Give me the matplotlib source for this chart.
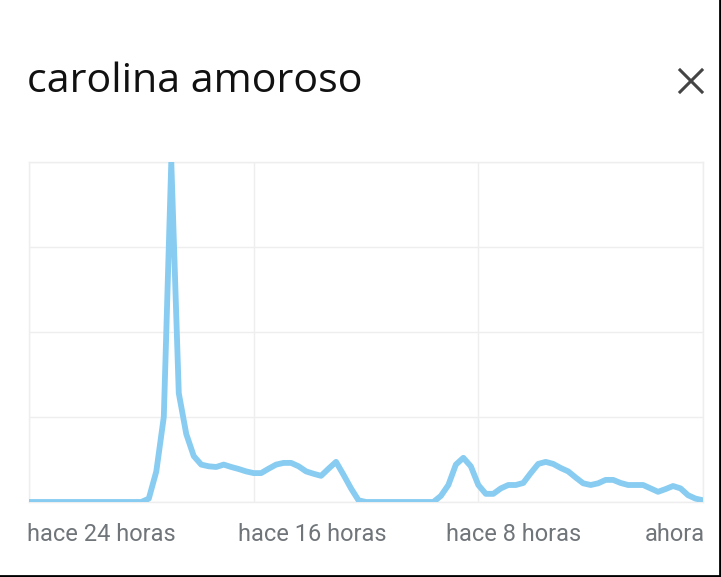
import matplotlib.pyplot as plt
from matplotlib.lines import Line2D

# interest over the last 24 hours (sampled every 16 minutes, 0..100)
values = [0, 0, 0, 0, 0, 0, 0, 0, 0, 0, 0, 0, 0, 0, 0, 0,
          1, 9, 25, 100, 32, 20, 13.5, 11, 10.5, 10.3, 11, 10.3, 9.7, 9.0,
          8.5, 8.5, 9.8, 11, 11.5, 11.5, 10.5, 9, 8.3, 7.7,
          9.8, 11.8, 8, 4, 0.5, 0, 0, 0, 0, 0, 0, 0, 0, 0, 0,
          1.8, 5, 11, 13, 10.5, 5, 2.4, 2.4, 4, 5, 5, 5.6, 8.5, 11.2, 11.8,
          11.2, 10, 9, 7.2, 5.5, 5, 5.5, 6.5, 6.5, 5.6, 5, 5, 5, 4, 3,
          3.8, 4.7, 4, 2, 1, 0.5]
tick_pos = [0, 30, 60, 90]
tick_labels = ['hace 24 horas', 'hace 16 horas', 'hace 8 horas', 'ahora']
title = 'carolina amoroso'

W, H = 721, 577
fig = plt.figure(figsize=(W / 100, H / 100), dpi=100)
ax = fig.add_axes([29 / W, (H - 502) / H, (703 - 29) / W, (502 - 162) / H])

x = list(range(len(values)))
ax.plot(x, values, color='#88ccf1', lw=4.2, solid_joinstyle='round',
        solid_capstyle='round', zorder=3)

ax.set_xlim(0, 90)
ax.set_ylim(0, 100)
ax.set_yticks([0, 25, 50, 75, 100])
ax.set_xticks(tick_pos)
ax.grid(True, color='#eeeeee', lw=1)
ax.tick_params(length=0, labelleft=False, labelbottom=False)
for s in ax.spines.values():
    s.set_color('#eeeeee')
    s.set_linewidth(1)

# x labels below the plot (label anchors in data units)
label_x = [-0.27, 27.9, 55.7, 90.3]
aligns = ['left', 'left', 'left', 'right']
for lx, lab, al in zip(label_x, tick_labels, aligns):
    ax.text(lx, -0.097, lab, transform=ax.get_xaxis_transform(),
            ha=al, va='center', fontsize=17, color='#70757a',
            family=['Roboto', 'DejaVu Sans'])

fig.text(27 / W, 1 - 82 / H, title, ha='left', va='center', fontsize=29.6,
         color='#111111', family=['Open Sans', 'DejaVu Sans'])

# close icon
fig.add_artist(Line2D([680 / W, 702 / W], [1 - 70 / H, 1 - 92 / H], color='#444444', lw=2.2))
fig.add_artist(Line2D([680 / W, 702 / W], [1 - 92 / H, 1 - 70 / H], color='#444444', lw=2.2))

# black frame on right and bottom
fig.add_artist(Line2D([719.5 / W, 719.5 / W], [0, 1], color='black', lw=2))
fig.add_artist(Line2D([0, 1], [1.5 / H, 1.5 / H], color='black', lw=2))

fig.savefig('out.png', dpi=100)
